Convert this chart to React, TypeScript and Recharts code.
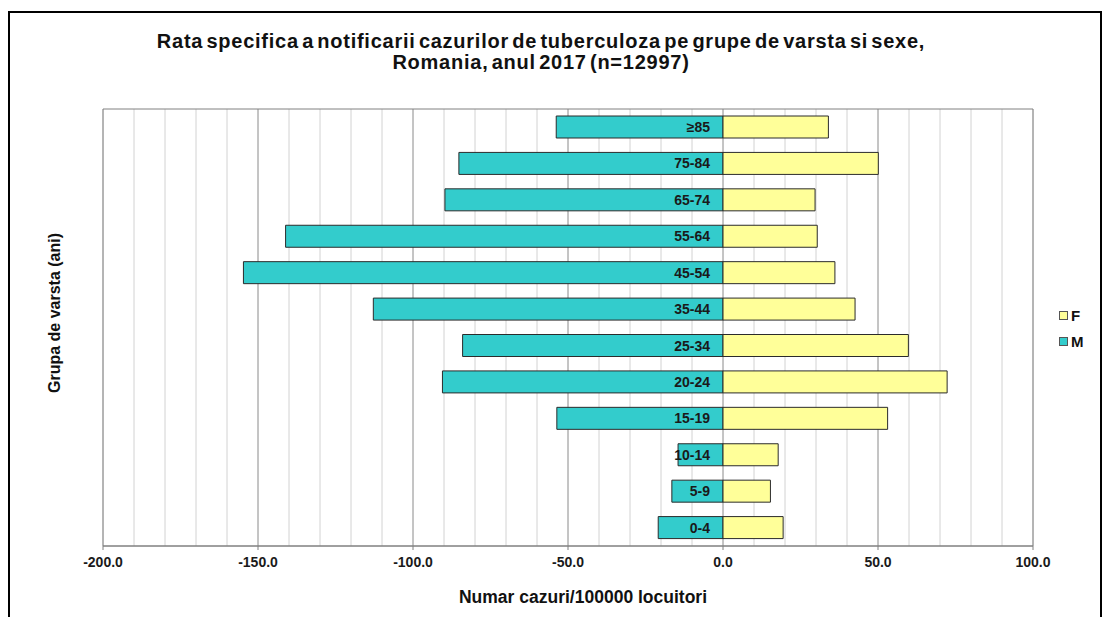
import { BarChart, Bar, XAxis, YAxis, CartesianGrid, LabelList, ReferenceArea } from 'recharts';

const FONT = '"Liberation Sans", Arial, sans-serif';

// age groups, top to bottom
const ageGroups = ['≥85', '75-84', '65-74', '55-64', '45-54', '35-44', '25-34', '20-24', '15-19', '10-14', '5-9', '0-4'];
// rates per 100000 (male plotted to the left)
const maleRates = [-53.8, -85.2, -89.7, -141.1, -154.7, -112.8, -84.0, -90.5, -53.6, -14.5, -16.5, -20.9];
const femaleRates = [34.0, 50.1, 29.7, 30.4, 36.1, 42.6, 59.8, 72.3, 53.1, 17.8, 15.3, 19.4];

const seriesNames = ['F', 'M'];
const seriesColors = ['#FFFF99', '#33CCCC'];

const xDomain: [number, number] = [-200, 100];
const xTicks = [
  -200, -190, -180, -170, -160, -150, -140, -130, -120, -110, -100, -90, -80, -70, -60, -50, -40, -30, -20, -10,
  0, 10, 20, 30, 40, 50, 60, 70, 80, 90, 100,
];
const labelledTicks = [-200, -150, -100, -50, 0, 50, 100];
const majorLines = [-150, -100, -50, 0, 50];

const data = ageGroups.map((group, i) => ({ group, M: maleRates[i], F: femaleRates[i] }));

function AxisTick(props: any) {
  const { x, y, payload } = props;
  if (!labelledTicks.includes(payload.value)) return <g />;
  return (
    <g>
      <line x1={x} x2={x} y1={y - 8} y2={y - 4} stroke="#808080" />
      <text x={x} y={y + 13} textAnchor="middle" fontSize={14} fontWeight="bold" fill="#1a1a1a" fontFamily={FONT}>
        {Number(payload.value).toFixed(1)}
      </text>
    </g>
  );
}

const renderGroupLabel = (props: any) => {
  const x = Number(props.x);
  const w = Number(props.width);
  const right = Math.max(x, x + w);
  return (
    <text
      x={right - 13}
      y={Number(props.y) + Number(props.height) / 2}
      dy="0.36em"
      textAnchor="end"
      fontSize={14}
      fontWeight="bold"
      fill="#1a1a1a"
      fontFamily={FONT}
    >
      {props.value}
    </text>
  );
};

// darker gridlines every 50 units
const majorGridGenerator = (args: any) => {
  const scale = args?.xAxis?.scale;
  if (typeof scale === 'function') return majorLines.map((v) => scale(v));
  const { left, width } = args.offset;
  return majorLines.map((v) => left + ((v - xDomain[0]) / (xDomain[1] - xDomain[0])) * width);
};

export default function App() {
  return (
    <div style={{ position: 'absolute', left: 0, top: 0, width: 1110, height: 617, background: '#fff', overflow: 'hidden', fontFamily: FONT }}>
      <div
        style={{
          position: 'absolute',
          left: 8,
          top: 11,
          width: 1090,
          height: 700,
          borderLeft: '2px solid #000',
          borderTop: '2px solid #000',
          borderRight: '2px solid #000',
        }}
      />
      <div
        style={{
          position: 'absolute',
          left: 0,
          width: 1082,
          top: 31,
          textAlign: 'center',
          fontSize: 20,
          lineHeight: '21px',
          fontWeight: 'bold',
          color: '#111',
          letterSpacing: 0.75,
          wordSpacing: -3,
        }}
      >
        Rata specifica a notificarii cazurilor de tuberculoza pe grupe de varsta si sexe,
        <br />
        Romania, anul 2017 (n=12997)
      </div>
      <div style={{ position: 'absolute', left: 0, top: 0 }}>
        <BarChart
          width={1110}
          height={617}
          data={data}
          layout="vertical"
          stackOffset="sign"
          barSize={22}
          margin={{ top: 109, right: 77, bottom: 41, left: 103 }}
        >
          <CartesianGrid horizontal={false} stroke="#d2d2d2" />
          <CartesianGrid horizontal={false} stroke="#a0a0a0" verticalCoordinatesGenerator={majorGridGenerator} />
          <ReferenceArea x1={xDomain[0]} x2={xDomain[1]} fill="none" stroke="#808080" />
          <XAxis
            type="number"
            domain={xDomain}
            ticks={xTicks}
            interval={0}
            tick={<AxisTick />}
            tickLine={false}
            axisLine={{ stroke: '#808080' }}
            height={30}
          />
          <YAxis type="category" dataKey="group" hide />
          <Bar dataKey="M" name="M" stackId="a" fill={seriesColors[1]} stroke="#2b2b2b" strokeWidth={1} isAnimationActive={false}>
            <LabelList dataKey="group" content={renderGroupLabel} />
          </Bar>
          <Bar dataKey="F" name="F" stackId="a" fill={seriesColors[0]} stroke="#2b2b2b" strokeWidth={1} isAnimationActive={false} />
        </BarChart>
      </div>
      <div
        style={{
          position: 'absolute',
          left: 30,
          top: 313,
          width: 50,
          height: 0,
          display: 'flex',
          alignItems: 'center',
          justifyContent: 'center',
        }}
      >
        <div style={{ transform: 'rotate(-90deg)', whiteSpace: 'nowrap', fontSize: 16, fontWeight: 'bold', color: '#111' }}>
          Grupa de varsta (ani)
        </div>
      </div>
      <div
        style={{
          position: 'absolute',
          left: 383,
          width: 400,
          top: 587,
          textAlign: 'center',
          fontSize: 17.5,
          lineHeight: '20px',
          fontWeight: 'bold',
          color: '#111',
        }}
      >
        Numar cazuri/100000 locuitori
      </div>
      <div style={{ position: 'absolute', left: 1059, top: 302 }}>
        {seriesNames.map((name, i) => (
          <div key={name} style={{ display: 'flex', alignItems: 'center', height: 26 }}>
            <div style={{ width: 7, height: 7, background: seriesColors[i], border: '1px solid #555', marginRight: 3 }} />
            <span style={{ fontSize: 15, fontWeight: 'bold', color: '#111' }}>{name}</span>
          </div>
        ))}
      </div>
    </div>
  );
}
